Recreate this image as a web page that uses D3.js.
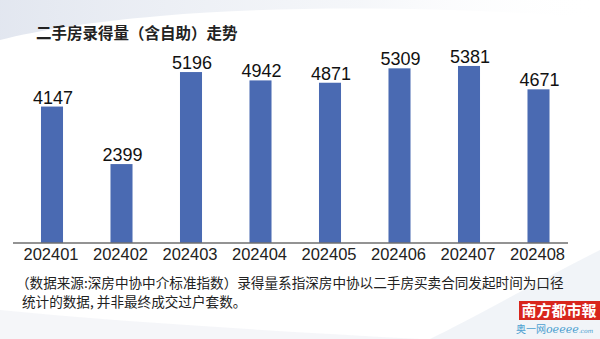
<!DOCTYPE html>
<html>
<head>
<meta charset="utf-8">
<script src="https://cdn.jsdelivr.net/npm/d3@7/dist/d3.min.js"></script>
<style>
  html, body { margin: 0; padding: 0; background: #fff; }
  svg { display: block; }
</style>
</head>
<body>
<div id="chart"></div>
<script>
// data
var months = ["202401", "202402", "202403", "202404", "202405", "202406", "202407", "202408"];
var counts = [4147, 2399, 5196, 4942, 4871, 5309, 5381, 4671];
var title = "二手房录得量（含自助）走势";
var notes = [
  "（数据来源:深房中协中介标准指数）录得量系指深房中协以二手房买卖合同发起时间为口径",
  "统计的数据, 并非最终成交过户套数。"
];

var W = 600, H = 339;
var cjk = "'Noto Sans CJK SC', 'Noto Sans', sans-serif";
var num = "'Liberation Sans', Arial, sans-serif";

var svg = d3.select("#chart").append("svg")
  .attr("width", W)
  .attr("height", H);

// soft background swooshes
var defs = svg.append("defs");
var grad = defs.append("linearGradient").attr("id", "sw").attr("x1", 0).attr("x2", 1).attr("y1", 0).attr("y2", 0);
grad.append("stop").attr("offset", "0%").attr("stop-color", "#dfe4ee").attr("stop-opacity", 0.9);
grad.append("stop").attr("offset", "60%").attr("stop-color", "#eef1f6").attr("stop-opacity", 0.6);
grad.append("stop").attr("offset", "100%").attr("stop-color", "#ffffff").attr("stop-opacity", 0);

svg.append("rect").attr("width", W).attr("height", H).attr("fill", "#fff");
svg.append("path")
  .attr("d", "M0,0 L600,0 L600,18 C470,8 300,4 160,16 C90,22 40,30 0,40 Z")
  .attr("fill", "url(#sw)");
svg.append("path")
  .attr("d", "M600,250 C540,280 470,320 430,339 L600,339 Z")
  .attr("fill", "#eef1f6").attr("opacity", 0.8);
svg.append("path")
  .attr("d", "M0,310 C120,322 260,330 420,339 L0,339 Z")
  .attr("fill", "#f2f4f8").attr("opacity", 0.8);

// title
svg.append("text")
  .attr("x", 36)
  .attr("y", 39)
  .style("font-family", cjk)
  .style("font-size", "15.5px")
  .style("font-weight", "bold")
  .attr("fill", "#222")
  .text(title);

var baseY = 243;

var x = d3.scaleBand()
  .domain(months)
  .range([17.25, 573.25])
  .paddingInner(0.683)
  .paddingOuter(0.3415);

var y = d3.scaleLinear()
  .domain([0, 6000])
  .range([baseY, 45.6]);

var data = months.map(function(m, i) { return {month: m, value: counts[i]}; });

svg.selectAll(".bar")
  .data(data)
  .enter()
  .append("rect")
  .attr("class", "bar")
  .attr("x", function(d) { return x(d.month); })
  .attr("y", function(d) { return y(d.value); })
  .attr("width", x.bandwidth())
  .attr("height", function(d) { return baseY - y(d.value); })
  .attr("fill", "#4a6ab2");

svg.selectAll(".val")
  .data(data)
  .enter()
  .append("text")
  .attr("class", "val")
  .attr("x", function(d) { return x(d.month) + x.bandwidth() / 2 + 1; })
  .attr("y", function(d) { return y(d.value) - 3; })
  .attr("text-anchor", "middle")
  .style("font-family", num)
  .style("font-size", "18px")
  .attr("fill", "#111")
  .text(function(d) { return d.value; });

// x axis
var xAxis = svg.append("g")
  .attr("transform", "translate(0," + baseY + ")")
  .call(d3.axisBottom(x).tickSize(0).tickPadding(5));
xAxis.select(".domain").remove();
xAxis.append("line")
  .attr("x1", 13).attr("x2", 568)
  .attr("stroke", "#6f6f6f")
  .attr("stroke-width", 1.5);
xAxis.selectAll(".tick text")
  .attr("dx", -1)
  .style("font-family", num)
  .style("font-size", "16.5px")
  .attr("fill", "#222");

// footnote
svg.selectAll(".note")
  .data(notes)
  .enter()
  .append("text")
  .attr("class", "note")
  .attr("x", function(d, i) { return i === 0 ? 16 : 22; })
  .attr("y", function(d, i) { return 288 + i * 19; })
  .style("font-family", cjk)
  .style("font-size", "13.6px")
  .attr("fill", "#222")
  .text(function(d) { return d; });

// logo
var logo = svg.append("g");
logo.append("rect")
  .attr("x", 519).attr("y", 301)
  .attr("width", 81).attr("height", 19)
  .attr("fill", "#d8261d");
logo.append("text")
  .attr("x", 559).attr("y", 316)
  .attr("text-anchor", "middle")
  .style("font-family", cjk)
  .style("font-size", "15px")
  .style("font-weight", "bold")
  .attr("fill", "#fff")
  .text("南方都市報");
logo.append("text")
  .attr("x", 516).attr("y", 333)
  .style("font-family", cjk)
  .style("font-size", "10px")
  .attr("fill", "#4b9fd0")
  .text("奥一网")
  .append("tspan")
  .style("font-family", "'DejaVu Serif', serif")
  .style("font-style", "italic")
  .style("font-size", "11px")
  .text("oeeee")
  .append("tspan")
  .style("font-size", "6px")
  .text(".com");
</script>
</body>
</html>
